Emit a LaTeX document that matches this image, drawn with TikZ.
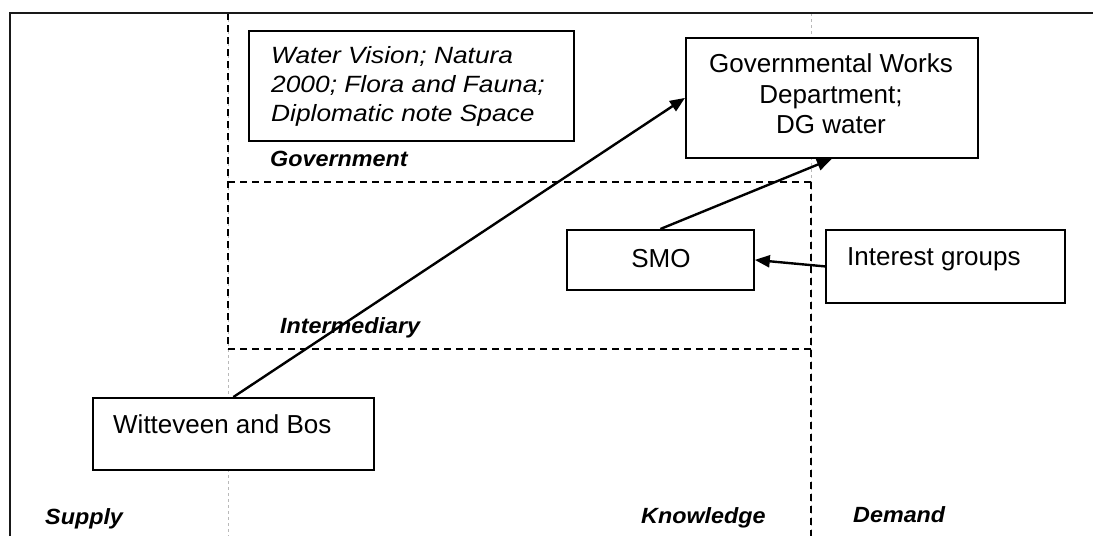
\documentclass[tikz,border=0pt]{standalone}
\usepackage{fontspec}
\setmainfont{Liberation Sans}
\usetikzlibrary{arrows.meta}
\begin{document}
\begin{tikzpicture}[x=1pt,y=-1pt,
  boxframe/.style={draw=black, fill=white, line width=1.8pt, inner sep=0pt, anchor=north west},
  boxtext/.style={inner sep=0pt, font=\fontsize{26}{30}\selectfont},
  notetext/.style={inner sep=0pt, anchor=base west, font=\fontsize{23.5}{29}\selectfont\itshape, xscale=1.12},
  zonelabel/.style={inner sep=0pt, anchor=base west, font=\fontsize{22}{26}\selectfont\bfseries\itshape, xscale=1.06},
  zoneline/.style={line width=1.7pt, dash pattern=on 7pt off 5pt},
  guideline/.style={gray!55, line width=0.9pt, dash pattern=on 3pt off 3pt},
  link/.style={line width=2.4pt, -{Triangle[length=15pt,width=12pt]}}]
\useasboundingbox (0,0) rectangle (1093,536);

% thin guide lines between supply, knowledge and demand
\draw[guideline] (228,13) -- (228,536);
\draw[guideline] (811,13) -- (811,536);

% government and intermediary zones
\draw[zoneline] (228,13) -- (228,349);
\draw[zoneline] (228,182) -- (811,182);
\draw[zoneline] (228,349) -- (811,349);
\draw[zoneline] (811,182) -- (811,536);

% outer frame
\draw[line width=2.5pt, black!90] (10,536) -- (10,13) -- (1093,13);

% boxes
\node[boxframe, minimum width=325pt, minimum height=110pt] (note) at (248,30) {};
\node[boxframe, minimum width=292pt, minimum height=120pt] (gwd) at (685,37) {};
\node[boxframe, minimum width=187pt, minimum height=60pt] (smo) at (566,229) {};
\node[boxframe, minimum width=239pt, minimum height=73pt] (ig) at (825,229) {};
\node[boxframe, minimum width=281pt, minimum height=72pt] (wb) at (92,397) {};

% box texts
\node[notetext] (note1) at (271,63.3) {Water Vision; Natura};
\node[notetext] (note2) at (271,92) {2000; Flora and Fauna;};
\node[notetext] (note3) at (271,121.5) {Diplomatic note Space};

\node[boxtext, anchor=base] (gwd1) at (831,72) {Governmental Works};
\node[boxtext, anchor=base] (gwd2) at (831,103) {Department;};
\node[boxtext, anchor=base] (gwd3) at (831,133) {DG water};

\node[boxtext, anchor=base] (smotext) at (661,267) {SMO};
\node[boxtext, anchor=base west] (igtext) at (847,265) {Interest groups};
\node[boxtext, anchor=base west] (wbtext) at (113,433) {Witteveen and Bos};

% zone labels
\node[zonelabel] (lgov) at (270,166) {Government};
\node[zonelabel] (lint) at (280,333) {Intermediary};
\node[zonelabel] (lsup) at (45,524) {Supply};
\node[zonelabel] (lkno) at (641,523) {Knowledge};
\node[zonelabel] (ldem) at (853,522) {Demand};

% relations
\draw[link] (wb.north) -- (gwd.west);
\draw[link] (smo.north) -- (gwd.south);
\draw[link] (ig.west) -- (smo.east);
\end{tikzpicture}
\end{document}
